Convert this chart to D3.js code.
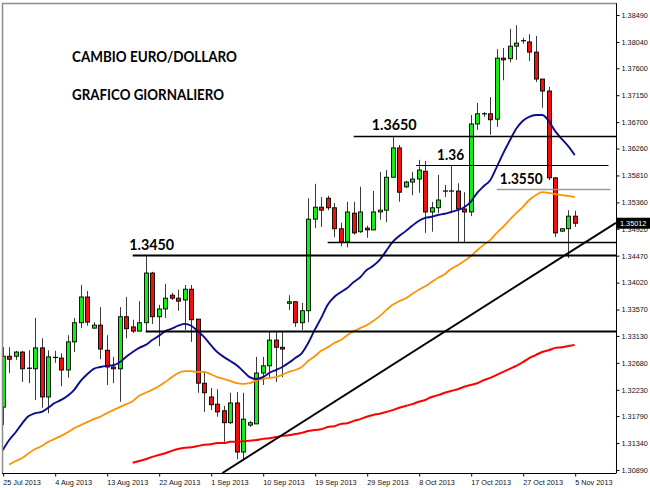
<!DOCTYPE html>
<html><head><meta charset="utf-8">
<script src="https://cdn.jsdelivr.net/npm/d3@7"></script>
<style>html,body{margin:0;padding:0;background:#fff;} svg{display:block}</style>
</head><body>
<svg id="c" width="650" height="488"></svg>
<script>
// ---- DATA ----
const openP = [1.3194,1.3279,1.3279,1.3286,1.3259,1.3258,1.3293,1.3211,1.3277,1.3276,
1.3256,1.3303,1.3335,1.3378,1.3326,1.3331,1.3289,1.3261,1.3258,1.3345,
1.3328,1.3321,1.3335,1.3418,1.3345,1.3358,1.3381,1.3376,1.3373,1.3391,
1.3341,1.3234,1.3211,1.3199,1.3188,1.3168,1.3201,1.3119,1.3164,1.3166,
1.3251,1.3263,1.3306,1.3294,1.3368,1.3370,1.3335,1.3355,1.3508,1.3528,
1.3543,1.3527,1.3492,1.3470,1.3518,1.3487,1.3493,1.3490,1.3520,1.3523,
1.3578,1.3627,1.3562,1.3570,1.3575,1.3588,1.3520,1.3527,1.3555,1.3555,
1.3555,1.3525,1.3520,1.3667,1.3684,1.3684,1.3675,1.3777,1.3776,1.3797,
1.3806,1.3804,1.3787,1.3742,1.3722,1.3577,1.3488,1.3492,1.3513];
const highP = [1.3294,1.3294,1.3288,1.3288,1.3289,1.3343,1.3309,1.3289,1.3288,1.3284,
1.3314,1.3343,1.3398,1.3388,1.3336,1.3361,1.3314,1.3278,1.3361,1.3378,
1.3340,1.3371,1.3448,1.3420,1.3365,1.3400,1.3385,1.3390,1.3398,1.3398,
1.3341,1.3253,1.3226,1.3224,1.3196,1.3218,1.3219,1.3218,1.3171,1.3278,
1.3278,1.3320,1.3320,1.3320,1.3381,1.3371,1.3368,1.3543,1.3567,1.3545,
1.3547,1.3535,1.3502,1.3537,1.3537,1.3562,1.3497,1.3555,1.3587,1.3590,
1.3645,1.3632,1.3572,1.3587,1.3607,1.3605,1.3537,1.3582,1.3565,1.3597,
1.3568,1.3553,1.3682,1.3702,1.3687,1.3712,1.3792,1.3794,1.3826,1.3832,
1.3811,1.3817,1.3814,1.3742,1.3729,1.3578,1.3493,1.3523,1.3522];
const lowP = [1.3164,1.3251,1.3273,1.3236,1.3234,1.3206,1.3193,1.3184,1.3268,1.3229,
1.3243,1.3286,1.3326,1.3330,1.3325,1.3274,1.3231,1.3234,1.3203,1.3309,
1.3318,1.3321,1.3321,1.3333,1.3296,1.3343,1.3373,1.3355,1.3323,1.3303,
1.3218,1.3186,1.3189,1.3178,1.3136,1.3166,1.3107,1.3107,1.3161,1.3166,
1.3231,1.3243,1.3236,1.3244,1.3356,1.3328,1.3323,1.3336,1.3493,1.3495,
1.3523,1.3478,1.3463,1.3461,1.3482,1.3485,1.3477,1.3490,1.3507,1.3503,
1.3577,1.3537,1.3560,1.3548,1.3552,1.3485,1.3487,1.3518,1.3545,1.3518,
1.3470,1.3470,1.3513,1.3657,1.3679,1.3649,1.3662,1.3740,1.3770,1.3774,
1.3801,1.3772,1.3737,1.3694,1.3573,1.3478,1.3487,1.3443,1.3495];
const closeP = [1.3279,1.3274,1.3286,1.3258,1.3259,1.3293,1.3211,1.3278,1.3277,1.3256,
1.3303,1.3335,1.3378,1.3336,1.3331,1.3291,1.3261,1.3258,1.3345,1.3325,
1.3321,1.3335,1.3418,1.3345,1.3358,1.3376,1.3376,1.3371,1.3391,1.3340,
1.3234,1.3218,1.3198,1.3186,1.3168,1.3201,1.3119,1.3174,1.3168,1.3251,
1.3263,1.3306,1.3294,1.3291,1.3370,1.3335,1.3355,1.3508,1.3528,1.3523,
1.3527,1.3492,1.3470,1.3520,1.3485,1.3520,1.3490,1.3520,1.3523,1.3578,
1.3627,1.3553,1.3570,1.3575,1.3590,1.3520,1.3527,1.3540,1.3555,1.3555,
1.3525,1.3520,1.3667,1.3684,1.3684,1.3674,1.3777,1.3774,1.3797,1.3802,
1.3806,1.3787,1.3742,1.3722,1.3577,1.3485,1.3492,1.3513,1.35012];

// moving averages (first value index given by *Start)
const maBlueStart = 0;
const maBlue = [1.3122,1.3139,1.3152,1.3167,1.3179,1.3184,1.3186,1.3193,1.3201,1.3206,
1.3213,1.3223,1.3238,1.3249,1.3258,1.3261,1.3263,1.3264,1.3269,1.3278,
1.3286,1.3293,1.3298,1.3306,1.3313,1.3321,1.3325,1.3330,1.3333,1.3330,
1.3321,1.3311,1.3298,1.3286,1.3278,1.3271,1.3264,1.3254,1.3244,1.3241,
1.3244,1.3251,1.3256,1.3261,1.3268,1.3276,1.3284,1.3301,1.3323,1.3343,
1.3365,1.3378,1.3386,1.3393,1.3403,1.3411,1.3423,1.3430,1.3440,1.3455,
1.3470,1.3480,1.3488,1.3497,1.3505,1.3510,1.3512,1.3515,1.3517,1.3520,
1.3523,1.3528,1.3537,1.3552,1.3563,1.3573,1.3595,1.3618,1.3639,1.3659,
1.3672,1.3679,1.3682,1.3682,1.3672,1.3655,1.3642,1.3630,1.3615];
const maOrangeStart = 1;
const maOrange = [1.3098,1.3104,1.3109,1.3117,1.3124,1.3129,1.3136,1.3141,1.3146,
1.3152,1.3159,1.3164,1.3169,1.3174,1.3178,1.3184,1.3189,1.3194,1.3199,
1.3204,1.3213,1.3218,1.3223,1.3229,1.3236,1.3244,1.3251,1.3254,1.3254,
1.3253,1.3253,1.3249,1.3244,1.3241,1.3238,1.3234,1.3233,1.3234,1.3239,
1.3241,1.3243,1.3244,1.3248,1.3253,1.3256,1.3261,1.3271,1.3279,1.3288,
1.3294,1.3301,1.3306,1.3314,1.3321,1.3326,1.3331,1.3338,1.3346,1.3356,
1.3365,1.3371,1.3376,1.3383,1.3390,1.3396,1.3403,1.3410,1.3416,1.3425,
1.3431,1.3438,1.3446,1.3456,1.3465,1.3473,1.3485,1.3495,1.3507,1.3518,
1.3528,1.3540,1.3548,1.3553,1.3552,1.3550,1.3548,1.3547,1.3545];
const maRedStart = 20;
const maRed = [1.3101,1.3104,1.3107,1.3111,1.3114,1.3117,1.3121,1.3124,1.3126,1.3127,
1.3129,1.3131,1.3132,1.3134,1.3134,1.3136,1.3136,1.3137,1.3138,1.3139,
1.3141,1.3142,1.3144,1.3146,1.3147,1.3149,1.3151,1.3154,1.3156,1.3157,
1.3161,1.3162,1.3166,1.3167,1.3171,1.3174,1.3178,1.3181,1.3183,1.3186,
1.3189,1.3193,1.3196,1.3199,1.3203,1.3206,1.3211,1.3214,1.3218,1.3221,
1.3224,1.3228,1.3231,1.3234,1.3239,1.3243,1.3248,1.3253,1.3258,1.3263,
1.3269,1.3276,1.3281,1.3286,1.3289,1.3293,1.3294,1.3296,1.3298];

// horizontal levels and their labels
const levelPrices = [1.3448, 1.3322, 1.3470, 1.3647, 1.3598, 1.3558];
const levelFrom   = [20, 22, 50, 54, 63.6, 76];
const levelTo     = [null, null, null, null, 93.2, 93.5];
const levelLabels = ["1.3450", "", "", "1.3650", "1.36", "1.3550"];
// trend line anchors [index, price]
const trendIdx = [33.8, 94.35];
const trendPrice = [1.3084, 1.3502];

const dateTickIdx = [0,8,16,24,32,40,48,56,64,72,80,88];
const dateLabels = ["25 Jul 2013","4 Aug 2013","13 Aug 2013","22 Aug 2013","1 Sep 2013","10 Sep 2013",
 "19 Sep 2013","29 Sep 2013","8 Oct 2013","17 Oct 2013","27 Oct 2013","5 Nov 2013"];
const priceTicks = [1.38490,1.38040,1.37600,1.37150,1.36700,1.36260,1.35810,1.35360,1.34920,
 1.34470,1.34020,1.33570,1.33130,1.32680,1.32230,1.31790,1.31340,1.30890];
const lastPrice = 1.35012;
const titles = ["CAMBIO EURO/DOLLARO", "GRAFICO GIORNALIERO"];

// ---- DRAW ----
const svg = d3.select("#c");
const L = 2, R = 616, T = 3, B = 473;
const x = d3.scaleLinear().domain([0, 88]).range([2.7, 574.7]);
const y = d3.scaleLinear().domain([1.30890, 1.38490]).range([470, 15]);

svg.append("rect").attr("width",650).attr("height",488).attr("fill","#fff");
svg.append("defs").append("clipPath").attr("id","pc")
  .append("rect").attr("x",L).attr("y",T).attr("width",R-L).attr("height",B-T);

const plot = svg.append("g").attr("clip-path","url(#pc)");

// candles
const n = openP.length;
const cg = plot.append("g");
for (let i = 0; i < n; i++) {
  const cx = Math.round(x(i)) + 0.5;
  const o = openP[i], c = closeP[i];
  cg.append("line").attr("x1",cx).attr("x2",cx)
    .attr("y1",y(highP[i])).attr("y2",y(lowP[i]))
    .attr("stroke","#3a3a3a").attr("stroke-width",1);
  if (o === c) {
    cg.append("line").attr("x1",cx-2.5).attr("x2",cx+2.5)
      .attr("y1",y(o)).attr("y2",y(o)).attr("stroke","#000").attr("stroke-width",1.2);
  } else {
    const top = y(Math.max(o,c)), bot = y(Math.min(o,c));
    cg.append("rect").attr("x",cx-2).attr("width",4)
      .attr("y",top).attr("height",Math.max(bot-top,1.5))
      .attr("fill", c > o ? "#14ee14" : "#f01010")
      .attr("stroke","#000").attr("stroke-width",0.9);
  }
}

// moving averages
function maLine(vals, start, color, w) {
  const line = d3.line().x((d,i)=>x(i+start)).y(d=>y(d)).curve(d3.curveMonotoneX);
  plot.append("path").datum(vals).attr("d",line).attr("fill","none")
    .attr("stroke",color).attr("stroke-width",w).attr("stroke-linejoin","round");
}
maLine(maRed, maRedStart, "#ff0000", 2);
maLine(maOrange, maOrangeStart, "#ff9306", 1.8);
maLine(maBlue, maBlueStart, "#0c0c8c", 1.9);

// horizontal levels
const lvlColor = ["#000","#000","#000","#000","#000","#9a9a9a"];
const lvlW = [2,2,1.5,1.6,1,1.6];
levelPrices.forEach((p,k)=>{
  const yy = Math.round(y(p)) + 0.5;
  plot.append("line").attr("x1",x(levelFrom[k]))
    .attr("x2", levelTo[k] == null ? R : x(levelTo[k]))
    .attr("y1",yy).attr("y2",yy).attr("stroke",lvlColor[k]).attr("stroke-width",lvlW[k]);
});

// trend line
plot.append("line").attr("x1",x(trendIdx[0])).attr("y1",y(trendPrice[0]))
  .attr("x2",x(trendIdx[1])).attr("y2",y(trendPrice[1]))
  .attr("stroke","#000").attr("stroke-width",2);

// level labels
const lblDx = [-3.5, 0, 0, 18, 21, 3];
const lblW = [45, 0, 0, 45, 27, 43];
levelLabels.forEach((t,k)=>{
  if (!t) return;
  svg.append("text").attr("x", x(levelFrom[k]) + lblDx[k])
    .attr("y", y(levelPrices[k]) - 5.5)
    .attr("font-family","Lato, 'Open Sans', sans-serif").attr("font-weight",700)
    .attr("font-size","14.5px").attr("fill","#000")
    .attr("textLength", lblW[k]).attr("lengthAdjust","spacingAndGlyphs").text(t);
});

// titles
svg.append("text").attr("x",72).attr("y",62).attr("font-family","Lato, 'Open Sans', sans-serif")
  .attr("font-weight",700).attr("font-size","14.5px").attr("fill","#000")
  .attr("textLength",165).attr("lengthAdjust","spacingAndGlyphs").text(titles[0]);
svg.append("text").attr("x",72).attr("y",99.5).attr("font-family","Lato, 'Open Sans', sans-serif")
  .attr("font-weight",700).attr("font-size","14.5px").attr("fill","#000")
  .attr("textLength",152).attr("lengthAdjust","spacingAndGlyphs").text(titles[1]);

// frame
svg.append("line").attr("x1",L+0.5).attr("x2",L+0.5).attr("y1",T).attr("y2",B).attr("stroke","#8c8c8c").attr("stroke-width",1.5);
svg.append("line").attr("x1",L).attr("x2",R).attr("y1",T+0.5).attr("y2",T+0.5).attr("stroke","#8c8c8c").attr("stroke-width",1.5);

// axes
const yAxis = d3.axisRight(y).tickValues(priceTicks).tickFormat(d3.format(".5f")).tickSize(3).tickPadding(2);
const ya = svg.append("g").attr("transform",`translate(${R+0.5},0)`).call(yAxis);
ya.select(".domain").attr("d",`M0,${T}V${B}`).attr("stroke","#000");
ya.selectAll("text").attr("font-family","Tahoma, 'Liberation Sans', Arial, sans-serif").attr("font-size","7.3px").attr("fill","#111");

const xAxis = d3.axisBottom(x).tickValues(dateTickIdx).tickFormat((d,i)=>dateLabels[i]).tickSize(3).tickPadding(3);
const xa = svg.append("g").attr("transform",`translate(0,${B+0.5})`).call(xAxis);
xa.select(".domain").attr("d",`M${L},0H${R+0.5}`).attr("stroke","#000");
xa.selectAll(".tick line").attr("transform","translate(0.5,0)");
xa.selectAll("text").attr("text-anchor","start").attr("dy","0.71em").attr("x",0)
  .attr("font-family","Tahoma, 'Liberation Sans', Arial, sans-serif").attr("font-size","7.3px").attr("fill","#111");

// last price box
const ly = y(lastPrice);
svg.append("rect").attr("x",R+1).attr("y",ly-5.5).attr("width",33).attr("height",11).attr("fill","#000");
svg.append("text").attr("x",R+4).attr("y",ly).attr("dy","0.33em").attr("font-family","Tahoma, 'Liberation Sans', Arial, sans-serif")
  .attr("font-size","7.3px").attr("fill","#fff").text(d3.format(".5f")(lastPrice));
</script>
</body></html>
